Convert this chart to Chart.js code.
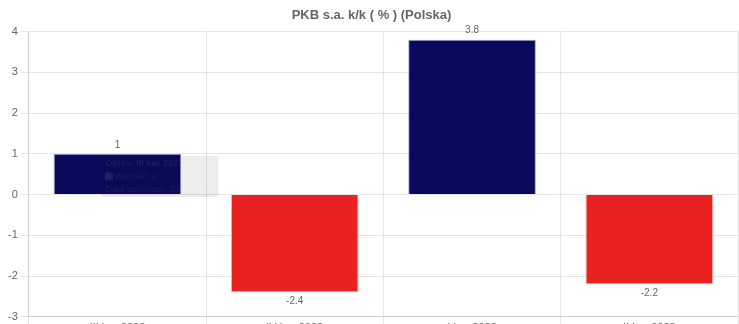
<!DOCTYPE html>
<html lang="pl">
<head>
<meta charset="utf-8">
<title>PKB s.a. k/k</title>
<script src="https://cdn.jsdelivr.net/npm/chart.js@4.4.0/dist/chart.umd.min.js"></script>
<style>
    html, body { margin: 0; padding: 0; background: #fff; overflow: hidden; }
    #wrap { position: relative; width: 739px; height: 332px; }
</style>
</head>
<body>
<div id="wrap"><canvas id="pkbChart"></canvas></div>
<script>
const periods = ['III kw. 2022', 'IV kw. 2022', 'I kw. 2023', 'II kw. 2023'];
const values = [1, -2.4, 3.8, -2.2];
const publishDates = ['30.11.2022', '28.02.2023', '31.05.2023', '31.08.2023'];
const yTicks = [-3, -2, -1, 0, 1, 2, 3, 4];

const navy = '#0a0a5c';
const red = '#e82121';

const barColors = values.map(v => v >= 0 ? navy : red);
const barBorders = values.map(v => v >= 0 ? 'rgba(150,150,200,0.9)' : 'rgba(250,170,170,0.9)');

// value labels above / below each bar
const valueLabels = {
    id: 'valueLabels',
    afterDatasetsDraw(chart) {
        const ctx = chart.ctx;
        const meta = chart.getDatasetMeta(0);
        ctx.save();
        ctx.font = '10px "Liberation Sans", Arial, sans-serif';
        ctx.fillStyle = '#666';
        ctx.textAlign = 'center';
        meta.data.forEach((bar, i) => {
            const v = values[i];
            if (v >= 0) {
                ctx.textBaseline = 'bottom';
                ctx.fillText(String(v), bar.x, bar.y - 4);
            } else {
                ctx.textBaseline = 'top';
                ctx.fillText(String(v), bar.x, bar.y + 4);
            }
        });
        ctx.restore();
    }
};

Chart.Tooltip.positioners.underBar = function (items) {
    if (!items.length) return false;
    const el = items[0].element;
    return { x: el.x - 14, y: el.y + 2 };
};

const fadedText = 'rgba(255,255,255,0.07)';

const chart = new Chart(document.getElementById('pkbChart'), {
    type: 'bar',
    data: {
        labels: periods,
        datasets: [{
            label: 'PKB s.a. k/k',
            data: values,
            backgroundColor: barColors,
            borderColor: barBorders,
            borderWidth: 1
        }]
    },
    options: {
        responsive: true,
        maintainAspectRatio: false,
        animation: false,
        events: [],
        layout: { padding: { left: 5, right: 1, top: 0, bottom: 0 } },
        scales: {
            x: {
                grid: { color: 'rgba(0,0,0,0.1)', offset: true, tickLength: 8 },
                border: { color: 'rgba(0,0,0,0.1)' },
                ticks: { color: '#666', font: { family: '"Liberation Sans", Arial', size: 11 }, padding: -3 }
            },
            y: {
                min: yTicks[0],
                max: yTicks[yTicks.length - 1],
                afterBuildTicks: axis => { axis.ticks = yTicks.map(v => ({ value: v })); },
                grid: { color: 'rgba(0,0,0,0.1)', tickLength: 8 },
                border: { color: 'rgba(0,0,0,0.1)' },
                ticks: { color: '#666', font: { family: '"Liberation Sans", Arial', size: 11 }, padding: 3 }
            }
        },
        plugins: {
            legend: { display: false },
            title: {
                display: true,
                text: 'PKB s.a. k/k ( % ) (Polska)',
                color: '#666',
                font: { family: '"Liberation Sans", Arial', size: 13, weight: 'bold' },
                padding: { top: 8, bottom: 8 }
            },
            tooltip: {
                position: 'underBar',
                xAlign: 'left',
                yAlign: 'top',
                caretSize: 0,
                caretPadding: 0,
                cornerRadius: 3,
                backgroundColor: 'rgba(0,0,0,0.07)',
                titleColor: fadedText,
                bodyColor: fadedText,
                footerColor: fadedText,
                multiKeyBackground: 'rgba(255,255,255,0.06)',
                titleFont: { family: '"Liberation Sans", Arial', size: 9, weight: 'bold', lineHeight: 1.45 },
                bodyFont: { family: '"Liberation Sans", Arial', size: 9, lineHeight: 1.45 },
                footerFont: { family: '"Liberation Sans", Arial', size: 9, weight: 'normal', lineHeight: 1.45 },
                titleMarginBottom: 0,
                footerMarginTop: 0,
                padding: { x: 5, y: 1 },
                boxWidth: 7,
                boxHeight: 7,
                callbacks: {
                    title: items => 'Okres: ' + periods[items[0].dataIndex],
                    label: item => 'Wartość: ' + values[item.dataIndex],
                    footer: items => 'Data publikacji: ' + publishDates[items[0].dataIndex],
                    labelColor: () => ({ borderColor: 'rgba(255,255,255,0.08)', backgroundColor: 'rgba(90,90,150,0.18)' })
                }
            }
        }
    },
    plugins: [valueLabels]
});

chart.tooltip.setActiveElements([{ datasetIndex: 0, index: 0 }], { x: 0, y: 0 });
chart.update();
</script>
</body>
</html>
